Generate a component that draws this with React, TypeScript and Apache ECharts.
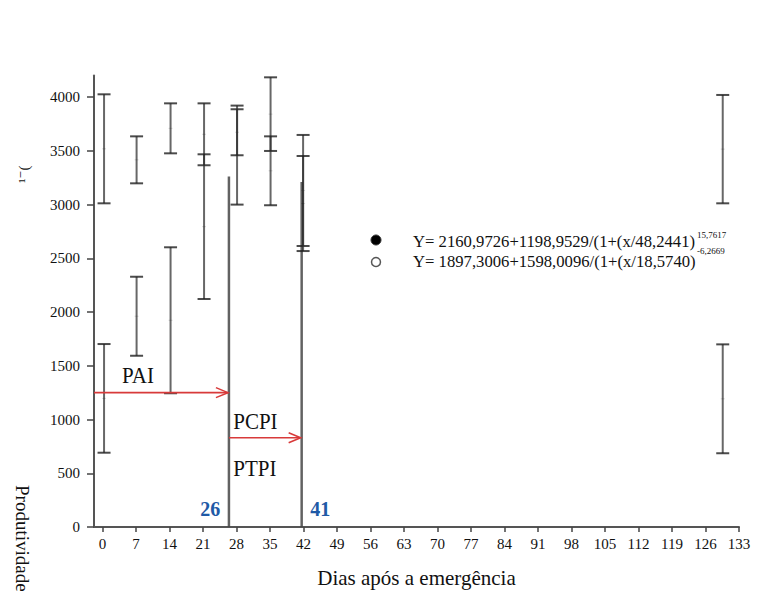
import React, { useEffect, useRef } from "react";
import * as echarts from "echarts";

// ---------- data ----------
const xTicks = [0, 7, 14, 21, 28, 35, 42, 49, 56, 63, 70, 77, 84, 91, 98, 105, 112, 119, 126, 133];
const yTicks = [0, 500, 1000, 1500, 2000, 2500, 3000, 3500, 4000];

const barDays = [0.3, 7.1, 14.2, 21.2, 28.1, 35.1, 41.9, 129.6];
const upperLow = [3011, 3197, 3476, 3365, 3458, 3498, 2614, 3011];
const upperHigh = [4025, 3634, 3941, 3941, 3886, 4183, 3647, 4019];
const lowerLow = [691, 1593, 1244, 2121, 2999, 2993, 2567, 686];
const lowerHigh = [1702, 2328, 2602, 3467, 3920, 3634, 3451, 1699];

const phaseDays = [26.4, 41.6];
const phaseTops = [3260, 3210];
const phaseLabels = ["26", "41"];
const phaseLabelDays = [22.5, 45.5];
const phaseLabelLevel = [167, 167];

const arrowStart = [-1.8, 26.4];
const arrowEnd = [26.4, 41.6];
const arrowLevel = [1250, 830];

const stageNames = ["PAI", "PCPI", "PTPI"];
const stageDays = [7.4, 27.3, 27.3];
const stageLevels = [1409, 981, 549];

const eqMain = ["Y= 2160,9726+1198,9529/(1+(x/48,2441)", "Y= 1897,3006+1598,0096/(1+(x/18,5740)"];
const eqExp = ["15,7617", "-6,2669"];

const xName = "Dias após a emergência";
const yName = "Produtividade";
const yUnitFragment = "¹⁻(";

const SERIF = "'Liberation Serif', 'DejaVu Serif', serif";

function errorRender(params: any, api: any) {
  const x = api.value(0);
  const lo = api.value(1);
  const hi = api.value(2);
  const pLo = api.coord([x, lo]);
  const pHi = api.coord([x, hi]);
  const pMid = api.coord([x, (lo + hi) / 2]);
  const cap = 6.5;
  const style = { stroke: "rgba(45,45,45,0.72)", lineWidth: 2 };
  const capStyle = { stroke: "rgba(30,30,30,0.8)", lineWidth: 2 };
  return {
    type: "group",
    children: [
      { type: "line", shape: { x1: pLo[0], y1: pLo[1], x2: pHi[0], y2: pHi[1] }, style },
      { type: "line", shape: { x1: pLo[0] - cap, y1: pLo[1], x2: pLo[0] + cap, y2: pLo[1] }, style: capStyle },
      { type: "line", shape: { x1: pHi[0] - cap, y1: pHi[1], x2: pHi[0] + cap, y2: pHi[1] }, style: capStyle },
      { type: "line", shape: { x1: pMid[0] - 2, y1: pMid[1], x2: pMid[0] + 2, y2: pMid[1] }, style: { stroke: "rgba(0,0,0,0.15)", lineWidth: 1 } },
    ],
  };
}

export default function App() {
  const ref = useRef<HTMLDivElement>(null);

  useEffect(() => {
    if (!ref.current) return;
    const chart = echarts.init(ref.current, null, { renderer: "svg" });

    const upperData = barDays.map((d, i) => [d, upperLow[i], upperHigh[i]]);
    const lowerData = barDays.map((d, i) => [d, lowerLow[i], lowerHigh[i]]);
    const phaseData = phaseDays.map((d, i) => [d, phaseTops[i]]);
    const phaseLabelData = phaseLabelDays.map((d, i) => [d, phaseLabelLevel[i]]);
    const arrowData = arrowStart.map((s, i) => [s, arrowEnd[i], arrowLevel[i]]);
    const stageData = stageDays.map((d, i) => [d, stageLevels[i]]);

    const option: any = {
      animation: false,
      backgroundColor: "#ffffff",
      grid: { left: 94, right: 19, top: 75.5, bottom: 67, containLabel: false, outerBoundsMode: "none" },
      xAxis: {
        type: "value",
        min: -1.8,
        max: 133,
        name: xName,
        nameLocation: "middle",
        nameGap: 40,
        nameTextStyle: { fontFamily: SERIF, fontSize: 21, color: "#111" },
        axisLine: { show: true, onZero: false, lineStyle: { color: "#555", width: 2 } },
        axisTick: { show: true, customValues: xTicks, length: 5, lineStyle: { color: "#444", width: 1.5 } },
        axisLabel: {
          customValues: xTicks,
          formatter: (v: number) => String(v),
          fontFamily: SERIF,
          fontSize: 15,
          color: "#111",
          margin: 9,
        },
        splitLine: { show: false },
      },
      yAxis: {
        type: "value",
        min: 0,
        max: 4200,
        axisLine: { show: true, onZero: false, lineStyle: { color: "#555", width: 2 } },
        axisTick: { show: true, customValues: yTicks, length: 7, lineStyle: { color: "#444", width: 1.5 } },
        axisLabel: {
          customValues: yTicks,
          formatter: (v: number) => String(v),
          fontFamily: SERIF,
          fontSize: 15,
          color: "#111",
          margin: 14,
        },
        splitLine: { show: false },
      },
      series: [
        {
          type: "custom",
          name: "phase",
          data: phaseData,
          renderItem: (params: any, api: any) => {
            const x = api.value(0);
            const p0 = api.coord([x, 0]);
            const p1 = api.coord([x, api.value(1)]);
            return {
              type: "line",
              shape: { x1: p0[0], y1: p0[1], x2: p1[0], y2: p1[1] },
              style: { stroke: "rgba(70,70,70,0.85)", lineWidth: 2.5 },
            };
          },
          z: 2,
        },
        { type: "custom", name: "upper", data: upperData, renderItem: errorRender, z: 3 },
        { type: "custom", name: "lower", data: lowerData, renderItem: errorRender, z: 3 },
        {
          type: "custom",
          name: "arrows",
          data: arrowData,
          renderItem: (params: any, api: any) => {
            const a = api.coord([api.value(0), api.value(2)]);
            const b = api.coord([api.value(1), api.value(2)]);
            const st = { stroke: "#d83a3a", lineWidth: 1.6, fill: "none" };
            return {
              type: "group",
              children: [
                { type: "line", shape: { x1: a[0], y1: a[1], x2: b[0] - 1, y2: b[1] }, style: st },
                {
                  type: "polyline",
                  shape: { points: [[b[0] - 13, b[1] - 5], [b[0] - 1, b[1]], [b[0] - 13, b[1] + 5]] },
                  style: st,
                },
              ],
            };
          },
          z: 4,
        },
        {
          type: "custom",
          name: "stages",
          data: stageData,
          renderItem: (params: any, api: any) => {
            const p = api.coord([api.value(0), api.value(1)]);
            const idx = params.dataIndex;
            return {
              type: "text",
              x: p[0],
              y: p[1],
              scaleY: 1.1,
              style: {
                text: stageNames[idx],
                fontFamily: SERIF,
                fontSize: 21,
                fill: "#111",
                align: idx === 0 ? "center" : "left",
                verticalAlign: "middle",
              },
            };
          },
          z: 5,
        },
        {
          type: "custom",
          name: "phaseLabels",
          data: phaseLabelData,
          renderItem: (params: any, api: any) => {
            const p = api.coord([api.value(0), api.value(1)]);
            return {
              type: "text",
              x: p[0],
              y: p[1],
              style: {
                text: phaseLabels[params.dataIndex],
                fontFamily: SERIF,
                fontSize: 20,
                fontWeight: "bold",
                fill: "#1f5aa6",
                align: "center",
                verticalAlign: "middle",
              },
            };
          },
          z: 5,
        },
      ],
      graphic: [
        { type: "circle", shape: { cx: 376, cy: 240, r: 5 }, style: { fill: "#000", stroke: "#333", lineWidth: 1 } },
        { type: "circle", shape: { cx: 376, cy: 262, r: 4.5 }, style: { fill: "#fff", stroke: "#555", lineWidth: 1.5 } },
        {
          type: "text",
          x: 413,
          y: 241,
          scaleX: 0.98,
          style: { text: eqMain[0], fontFamily: SERIF, fontSize: 17, fill: "#111", verticalAlign: "middle" },
        },
        {
          type: "text",
          x: 697,
          y: 235,
          style: { text: eqExp[0], fontFamily: SERIF, fontSize: 9, fill: "#111", verticalAlign: "middle" },
        },
        {
          type: "text",
          x: 413,
          y: 261,
          scaleX: 0.98,
          style: { text: eqMain[1], fontFamily: SERIF, fontSize: 17, fill: "#111", verticalAlign: "middle" },
        },
        {
          type: "text",
          x: 697,
          y: 251,
          style: { text: eqExp[1], fontFamily: SERIF, fontSize: 9, fill: "#111", verticalAlign: "middle" },
        },
        {
          type: "text",
          x: 22,
          y: 485,
          rotation: -Math.PI / 2,
          style: { text: yName, fontFamily: SERIF, fontSize: 19, fill: "#111", align: "left", verticalAlign: "middle" },
        },
        {
          type: "text",
          x: 24,
          y: 183,
          rotation: Math.PI / 2,
          style: { text: yUnitFragment, fontFamily: SERIF, fontSize: 15, fill: "#111", align: "left", verticalAlign: "middle" },
        },
      ],
    };

    chart.setOption(option);
    return () => chart.dispose();
  }, []);

  return (
    <div
      ref={ref}
      style={{ position: "absolute", left: 0, top: 0, width: 758, height: 594, background: "#fff" }}
    />
  );
}
